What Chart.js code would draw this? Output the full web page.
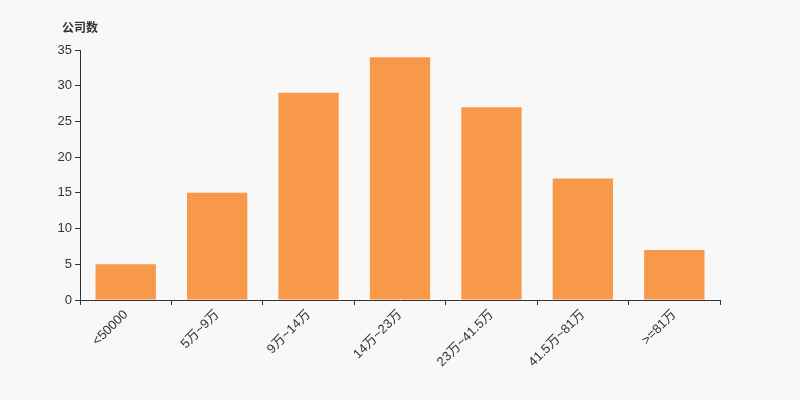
<!DOCTYPE html>
<html><head><meta charset="utf-8">
<script src="https://cdn.jsdelivr.net/npm/chart.js@4/dist/chart.umd.min.js"></script>
<style>html,body{margin:0;padding:0;background:#f8f8f8;}#wrap{width:800px;height:400px;}</style>
</head><body><div id="wrap"><canvas id="c" width="800" height="400"></canvas></div>
<script>
const categories = ['<50000','5万~9万','9万~14万','14万~23万','23万~41.5万','41.5万~81万','>=81万'];
const values = [5,15,29,34,27,17,7];
const yTicks = [0,5,10,15,20,25,30,35];
const unitTitle = '公司数';

const titlePlugin = {
  id:'unitTitle',
  afterDraw(chart){
    const ctx = chart.ctx;
    ctx.save();
    ctx.font = 'bold 12px "Noto Sans CJK SC", sans-serif';
    ctx.fillStyle = '#333';
    ctx.textBaseline = 'middle';
    ctx.textAlign = 'left';
    ctx.fillText(unitTitle, 62, 27);
    ctx.restore();
  }
};

new Chart(document.getElementById('c'), {
  type:'bar',
  data:{labels:categories, datasets:[{data:values, backgroundColor:'#f8994a', categoryPercentage:1, barPercentage:0.66}]},
  options:{
    responsive:false, animation:false,
    layout:{padding:{left:0,right:80,top:50,bottom:0}},
    plugins:{legend:{display:false}, tooltip:{enabled:false}},
    scales:{
      x:{
        grid:{display:true, drawOnChartArea:false, drawTicks:true, tickLength:5, color:'#333', offset:true},
        border:{display:true, color:'#333', width:1},
        ticks:{color:'#333', font:{family:'"Liberation Sans", "Noto Sans CJK SC", sans-serif', size:13}, maxRotation:45, minRotation:45, autoSkip:false, padding:2},
        afterFit(s){ s.height = 100; }
      },
      y:{
        min:0, max:35,
        afterBuildTicks(s){ s.ticks = yTicks.map(v=>({value:v})); },
        grid:{display:true, drawOnChartArea:false, drawTicks:true, tickLength:5, color:'#333'},
        border:{display:true, color:'#333', width:1},
        ticks:{color:'#333', font:{family:'"Liberation Sans", sans-serif', size:13}, padding:3},
        afterFit(s){ s.width = 80; }
      }
    }
  },
  plugins:[titlePlugin]
});
</script></body></html>
